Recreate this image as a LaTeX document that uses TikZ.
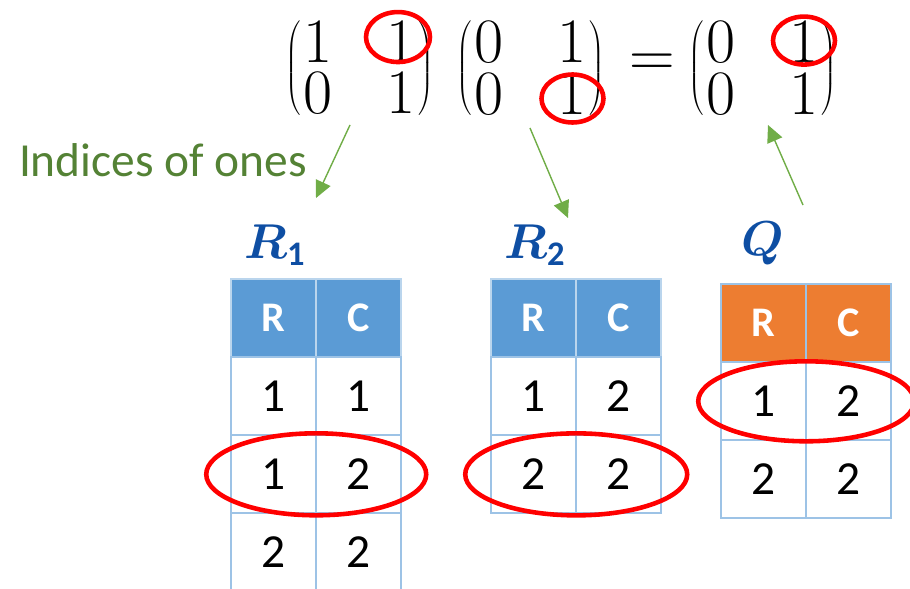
\documentclass[tikz,border=0pt]{standalone}
\usepackage{amsmath}
\usepackage{fontspec}
\setmainfont{Carlito}
\newfontfamily\digitfont{Latin Modern Roman}
\usetikzlibrary{arrows.meta,positioning,matrix,calc}
\definecolor{hdrblue}{HTML}{5B9BD5}
\definecolor{hdrorange}{HTML}{ED7D31}
\definecolor{gridline}{HTML}{9DC3E6}
\definecolor{ringred}{HTML}{FF0000}
\definecolor{arrowgreen}{HTML}{70AD47}
\definecolor{notegreen}{HTML}{548235}
\definecolor{labelblue}{HTML}{0E4EA3}
\tikzset{
  mmat/.style={matrix of nodes, left delimiter=(, right delimiter=),
    inner sep=0pt,
    nodes={minimum width=0.6cm, minimum height=0.84cm, inner sep=0pt,
      font=\digitfont\fontsize{36}{40}\selectfont},
    column sep=1.06cm, row sep=0.18cm},
  cell/.style={draw=gridline, line width=1pt, minimum width=1.7cm,
    minimum height=1.56cm, inner sep=0pt, font=\fontsize{27}{32}\selectfont},
  tbl/.style={matrix of nodes, nodes={cell}, anchor=north west, inner sep=0pt,
    column sep=-1pt, row sep=-1pt,
    row 1/.style={nodes={fill=hdrblue, draw=gridline!70!white, text=white,
      font=\fontsize{24}{28}\selectfont\bfseries}}},
  qtbl/.style={tbl,
    row 1/.style={nodes={fill=hdrorange, text=white,
      font=\fontsize{24}{28}\selectfont\bfseries}}},
  tbllabel/.style={text=labelblue, font=\fontsize{25}{30}\selectfont, scale=1.12},
  notetext/.style={text=notegreen, font=\fontsize{27}{32}\selectfont},
  ring/.style={draw=ringred, line width=2.6pt},
  greenarr/.style={-{Triangle[length=3.4mm, width=3.2mm]}, line width=0.8pt,
    draw=arrowgreen, fill=arrowgreen}
}
\begin{document}
\begin{tikzpicture}
  \useasboundingbox (0,0) rectangle (18.2,-11.78);
  % the product
  \matrix[mmat] (m1) at (7.19,-1.36) {1 & 1\\ 0 & 1\\};
  \matrix[mmat] (m2) at (10.62,-1.36) {0 & 1\\ 0 & 1\\};
  \node[font=\digitfont\fontsize{36}{40}\selectfont] (eq) at (13.04,-1.3) {=};
  \matrix[mmat] (m3) at (15.25,-1.36) {0 & 1\\ 0 & 1\\};
  \draw[ring] ([shift={(-0.06,0.1)}]m1-1-2.center) ellipse [x radius=0.64cm, y radius=0.5cm];
  \draw[ring] ([shift={(0,-0.1)}]m2-2-2.center) ellipse [x radius=0.62cm, y radius=0.48cm];
  \draw[ring] ([shift={(0,0.02)}]m3-1-2.center) ellipse [x radius=0.62cm, y radius=0.48cm];

  \node[notetext] (note) at (3.26,-3.2) {Indices of ones};

  % index tables
  \node[tbllabel] (lblR1) at (5.5,-4.9) {$\boldsymbol{R}_{\mathbf{1}}$};
  \node[tbllabel] (lblR2) at (10.7,-4.9) {$\boldsymbol{R}_{\mathbf{2}}$};
  \node[tbllabel] (lblQ) at (15.26,-4.86) {$\boldsymbol{Q}$};
  \matrix[tbl] (r1) at (4.6,-5.56) {R & C\\ 1 & 1\\ 1 & 2\\ 2 & 2\\};
  \matrix[tbl] (r2) at (9.8,-5.56) {R & C\\ 1 & 2\\ 2 & 2\\};
  \matrix[qtbl] (q) at (14.4,-5.66) {R & C\\ 1 & 2\\ 2 & 2\\};
  \draw[ring] ($(r1-3-1.center)!0.5!(r1-3-2.center)$) ellipse [x radius=2.2cm, y radius=0.82cm];
  \draw[ring] ($(r2-3-1.center)!0.5!(r2-3-2.center)$) ellipse [x radius=2.22cm, y radius=0.82cm];
  \draw[ring] ($(q-2-1.center)!0.5!(q-2-2.center)$) ellipse [x radius=2.16cm, y radius=0.8cm];

  % arrows
  \coordinate (a1s) at (7.0,-2.5);
  \coordinate (a1e) at (6.32,-3.96);
  \coordinate (a2s) at (10.6,-2.56);
  \coordinate (a2e) at (11.36,-4.36);
  \coordinate (a3s) at (16.06,-4.1);
  \coordinate (a3e) at (15.36,-2.5);
  \draw[greenarr] (a1s) -- (a1e);
  \draw[greenarr] (a2s) -- (a2e);
  \draw[greenarr] (a3s) -- (a3e);
\end{tikzpicture}
\end{document}
